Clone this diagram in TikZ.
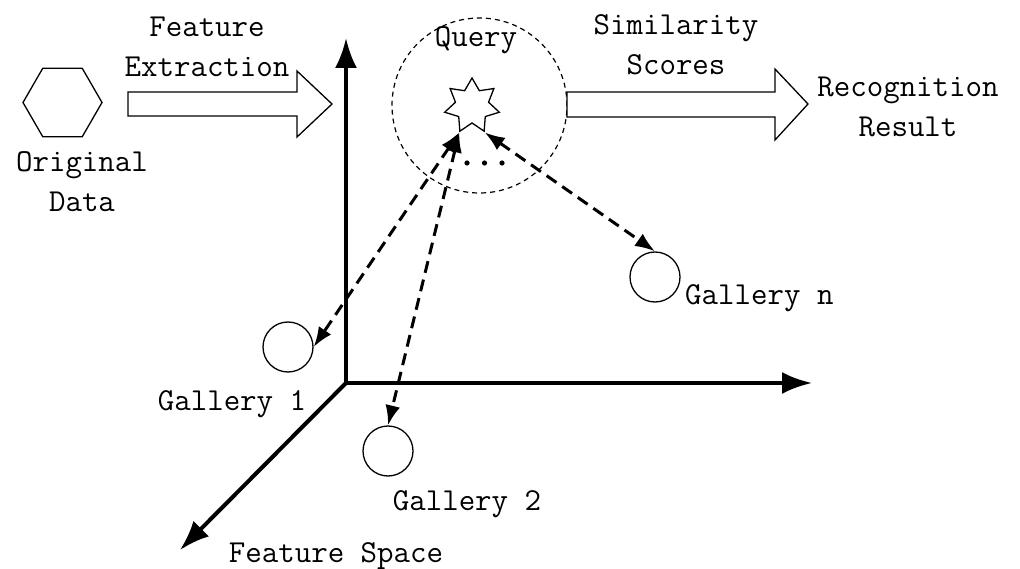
\documentclass[tikz,border=0pt]{standalone}
\usepackage{fontspec}
\usetikzlibrary{arrows.meta,shapes.geometric}

\begin{document}
\begin{tikzpicture}[x=1pt,y=-1pt,
  lbl/.style={font=\ttfamily\fontsize{32}{40}\selectfont,align=center,anchor=base,inner sep=0},
  axis/.style={line width=4pt,line cap=rect,-{Latex[length=30pt,width=22pt]}},
  sim/.style={line width=3pt,dash pattern=on 12pt off 7pt,{Latex[length=20pt,width=15pt]}-{Latex[length=20pt,width=15pt]}},
  gal/.style={draw,circle,line width=1.3pt,minimum size=50pt,inner sep=0},
  bigarrow/.style={draw,line width=1.3pt,fill=white}]
\useasboundingbox (0,0) rectangle (1020,569);

%Eingabe
\node[draw,regular polygon,regular polygon sides=6,minimum size=79pt,inner sep=0,line width=1.3pt] (data) at (62.5,102.5) {};
\node[lbl] (datatxt) at (82,212) {Original\\Data};
\draw[bigarrow] (128,92) -- (297,92) -- (297,71) -- (332,104) -- (297,137) -- (297,116) -- (128,116) -- cycle;
\node[lbl] (feat) at (207,77) {Feature\\Extraction};

%Merkmalsraum
\coordinate (O) at (346,383);
\draw[axis] (O) -- (346,38);
\draw[axis] (O) -- (812,383);
\draw[axis] (O) -- (180,550);
\node[lbl] (space) at (336,562) {Feature Space};

%Anfrage
\node[draw,circle,line width=1.2pt,dash pattern=on 5pt off 4pt,minimum size=175pt,inner sep=0] (zone) at (479.5,105.5) {};
\node[lbl] (querytxt) at (476,47) {Query};
\node[draw,star,star points=7,star point ratio=1.65,minimum size=56pt,inner sep=0,line width=1.3pt,fill=white] (q) at (472,106) {};
\foreach \x in {467,484.5,502} {
\fill (\x,163) circle (2.6pt);
}

%Galerie
\node[gal] (g1) at (288,347) {};
\node[gal] (g2) at (388,451) {};
\node[gal] (gn) at (655,277) {};
\node[lbl] (g1txt) at (232,410) {Gallery 1};
\node[lbl] (g2txt) at (467,510) {Gallery 2};
\node[lbl,anchor=base west] (gntxt) at (685,305) {Gallery n};
\draw[sim] (q.outer point 4) -- (g1.east);
\draw[sim] (q.outer point 4) -- (g2.north);
\draw[sim] (q.outer point 5) -- (gn.north);

%Ergebnis
\draw[bigarrow] (567,92) -- (775,92) -- (775,69) -- (808,104) -- (775,140) -- (775,117) -- (567,117) -- cycle;
\node[lbl] (scores) at (676,75) {Similarity\\Scores};
\node[lbl] (result) at (908,137) {Recognition\\Result};
\end{tikzpicture}
\end{document}
